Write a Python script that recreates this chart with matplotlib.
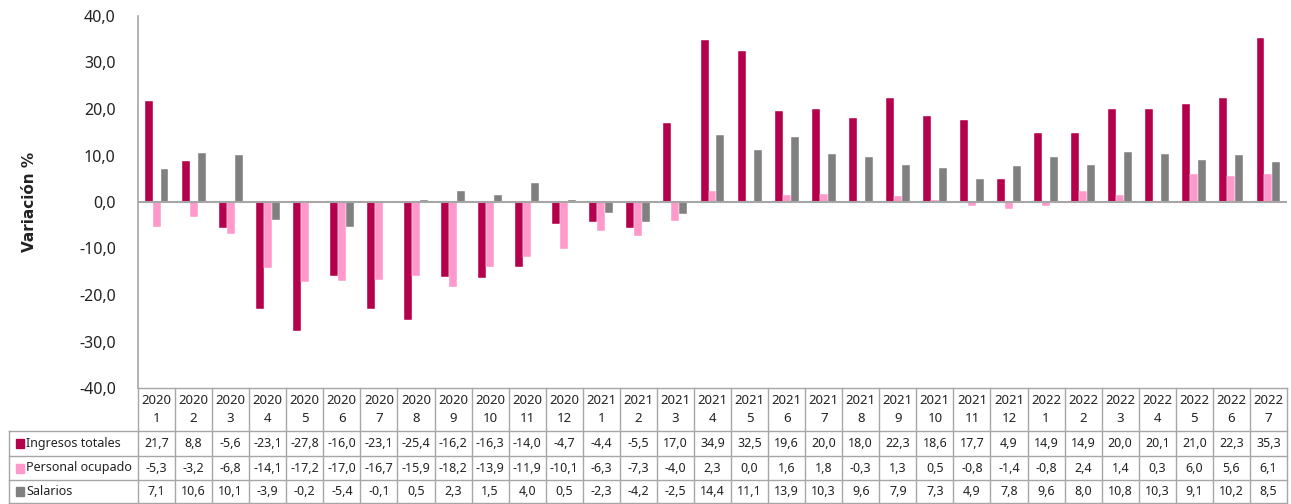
import matplotlib
matplotlib.use("Agg")
import matplotlib.pyplot as plt
import matplotlib.transforms as mtransforms
from matplotlib import font_manager
import numpy as np

plt.rcParams['font.family'] = ['Noto Sans', 'DejaVu Sans']

years = ["2020"] * 12 + ["2021"] * 12 + ["2022"] * 7
months = [str(m) for m in range(1, 13)] * 2 + [str(m) for m in range(1, 8)]

series_names = ["Ingresos totales", "Personal ocupado", "Salarios"]
ingresos = [21.7, 8.8, -5.6, -23.1, -27.8, -16.0, -23.1, -25.4, -16.2, -16.3, -14.0, -4.7,
            -4.4, -5.5, 17.0, 34.9, 32.5, 19.6, 20.0, 18.0, 22.3, 18.6, 17.7, 4.9,
            14.9, 14.9, 20.0, 20.1, 21.0, 22.3, 35.3]
personal = [-5.3, -3.2, -6.8, -14.1, -17.2, -17.0, -16.7, -15.9, -18.2, -13.9, -11.9, -10.1,
            -6.3, -7.3, -4.0, 2.3, 0.0, 1.6, 1.8, -0.3, 1.3, 0.5, -0.8, -1.4,
            -0.8, 2.4, 1.4, 0.3, 6.0, 5.6, 6.1]
salarios = [7.1, 10.6, 10.1, -3.9, -0.2, -5.4, -0.1, 0.5, 2.3, 1.5, 4.0, 0.5,
            -2.3, -4.2, -2.5, 14.4, 11.1, 13.9, 10.3, 9.6, 7.9, 7.3, 4.9, 7.8,
            9.6, 8.0, 10.8, 10.3, 9.1, 10.2, 8.5]
colors = ["#B5004B", "#FF99CC", "#808080"]
yticks = [40, 30, 20, 10, 0, -10, -20, -30, -40]

W, H = 1291, 504
fig = plt.figure(figsize=(W / 100, H / 100), dpi=100)

x0, x1 = 138, 1287
ytop, ybot = 16, 388
ax = fig.add_axes([x0 / W, 1 - ybot / H, (x1 - x0) / W, (ybot - ytop) / H])

n = len(ingresos)
x = np.arange(n)
bw = 0.215
for k, (vals, c) in enumerate(zip([ingresos, personal, salarios], colors)):
    ax.bar(x + (k - 1) * bw, vals, width=bw, color=c, edgecolor="white", linewidth=0.3, zorder=2)

ax.set_xlim(-0.5, n - 0.5)
ax.set_ylim(-40, 40)
ax.set_yticks(yticks)
ax.set_yticklabels([f"{v:.1f}".replace(".", ",") for v in yticks], fontsize=11.5, color="#222222")
ax.tick_params(axis="y", length=0, pad=16)
ax.set_xticks([])
for s in ["top", "right", "bottom"]:
    ax.spines[s].set_visible(False)
ax.spines["left"].set_color("#A6A6A6")
ax.spines["left"].set_linewidth(1.2)
ax.axhline(0, color="#A6A6A6", linewidth=1.5, zorder=3)

fig.text(30 / W, 1 - 202 / H, "Variación %", rotation=90, fontsize=11, fontweight="bold",
         family=["DejaVu Sans"], ha="center", va="center", color="#222222")

# Table overlay in pixel coordinates
tax = fig.add_axes([0, 0, 1, 1])
tax.set_xlim(0, W)
tax.set_ylim(H, 0)
tax.axis("off")
blend = mtransforms.blended_transform_factory(ax.transData, tax.transData)

lc = "#A6A6A6"
lw = 1.0
row_y = [388, 431, 456, 480, 503]
for yy in row_y:
    tax.plot([-0.5, n - 0.5], [yy, yy], transform=blend, color=lc, lw=lw, clip_on=False)
for yy in row_y[1:]:
    tax.plot([9, x0], [yy, yy], color=lc, lw=lw, clip_on=False)
for i in range(n + 1):
    tax.plot([i - 0.5, i - 0.5], [row_y[0], row_y[-1]], transform=blend, color=lc, lw=lw, clip_on=False)
tax.plot([9, 9], [row_y[1], row_y[-1]], color=lc, lw=lw, clip_on=False)

for i in range(n):
    tax.text(i, 401, years[i], transform=blend, ha="center", va="center", fontsize=9.5, color="#222222")
    tax.text(i, 419, months[i], transform=blend, ha="center", va="center", fontsize=9.5, color="#222222")

for r, (name, vals, c) in enumerate(zip(series_names, [ingresos, personal, salarios], colors)):
    yc = (row_y[r + 1] + row_y[r + 2]) / 2
    tax.add_patch(plt.Rectangle((16, yc - 4.5), 8, 9, color=c))
    tax.text(26, yc, name, ha="left", va="center", fontsize=9, color="#222222")
    for i, v in enumerate(vals):
        tax.text(i, yc, f"{v:.1f}".replace(".", ","), transform=blend, ha="center", va="center",
                 fontsize=9, color="#222222")

fig.savefig("out.png", dpi=100)
